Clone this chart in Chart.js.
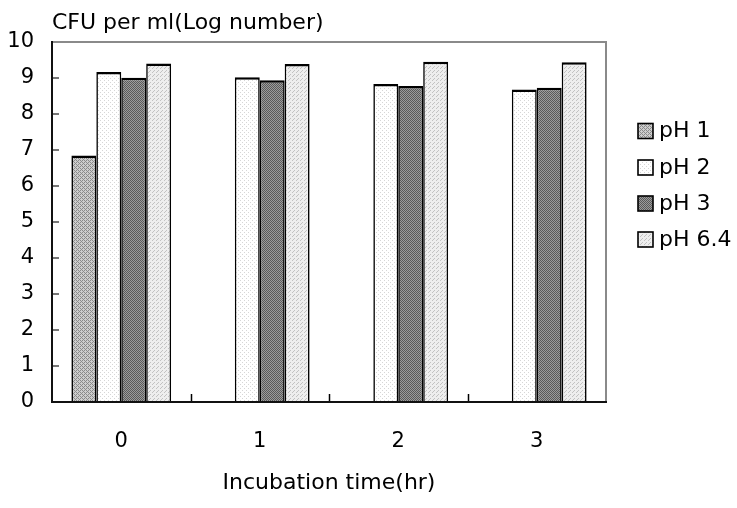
<!DOCTYPE html>
<html>
<head>
<meta charset="utf-8">
<script src="https://cdn.jsdelivr.net/npm/chart.js@4"></script>
<style>
  html, body { margin: 0; padding: 0; background: #fff; }
  #wrap { width: 737px; height: 508px; }
</style>
</head>
<body>
<div id="wrap"><canvas id="phChart" width="737" height="508"></canvas></div>
<script>
// survival counts (log CFU/ml) per incubation hour
const hours = ['0', '1', '2', '3'];
const seriesNames = ['pH 1', 'pH 2', 'pH 3', 'pH 6.4'];
const ph1 = [6.85, null, null, null];
const ph2 = [9.17, 9.02, 8.83, 8.68];
const ph3 = [9.01, 8.94, 8.78, 8.73];
const ph64 = [9.40, 9.39, 9.45, 9.44];
const yTicks = [0, 1, 2, 3, 4, 5, 6, 7, 8, 9, 10];

const FONT = '"DejaVu Sans", sans-serif';

// tiny bitmap fills that mimic the old print-style shading
function makePattern(bg, fg, dots) {
    const c = document.createElement('canvas');
    c.width = 4; c.height = 4;
    const g = c.getContext('2d');
    g.fillStyle = bg;
    g.fillRect(0, 0, 4, 4);
    g.fillStyle = fg;
    dots.forEach(([x, y]) => g.fillRect(x, y, 1, 1));
    return g.createPattern(c, 'repeat');
}

const fills = [
    makePattern('#cdcdcd', '#8a8a8a', [[0, 0], [1, 1], [2, 2], [3, 3], [2, 0], [0, 2]]),
    makePattern('#ffffff', '#d6d6d6', [[0, 0], [2, 2]]),
    makePattern('#9c9c9c', '#5a5a5a', [[0, 0], [2, 0], [1, 1], [3, 1], [0, 2], [2, 2], [1, 3], [3, 3]]),
    makePattern('#eeeeee', '#c2c2c2', [[0, 0], [2, 2], [1, 3]])
];

const values = [ph1, ph2, ph3, ph64];

const frameAndTicks = {
    id: 'frameAndTicks',
    afterDatasetsDraw(chart) {
        const { ctx, chartArea: a, scales } = chart;
        ctx.save();
        // inner tick marks on the value axis
        ctx.strokeStyle = '#777';
        ctx.lineWidth = 2;
        yTicks.forEach(v => {
            const y = Math.round(scales.y.getPixelForValue(v));
            ctx.beginPath();
            ctx.moveTo(a.left, y);
            ctx.lineTo(a.left + 7, y);
            ctx.stroke();
        });
        // inner tick marks between hour groups
        ctx.strokeStyle = '#000';
        ctx.lineWidth = 1.5;
        const step = scales.x.getPixelForValue(1) - scales.x.getPixelForValue(0);
        for (let i = 1; i < hours.length; i++) {
            const x = Math.round(scales.x.getPixelForValue(i) - step / 2) + 0.5;
            ctx.beginPath();
            ctx.moveTo(x, a.bottom);
            ctx.lineTo(x, a.bottom - 8);
            ctx.stroke();
        }
        // plot frame: grey top/right, black axes
        ctx.lineWidth = 2;
        ctx.strokeStyle = '#8a8a8a';
        ctx.beginPath();
        ctx.moveTo(a.left, a.top);
        ctx.lineTo(a.right, a.top);
        ctx.lineTo(a.right, a.bottom);
        ctx.stroke();
        ctx.strokeStyle = '#111';
        ctx.beginPath();
        ctx.moveTo(a.left, a.top - 1);
        ctx.lineTo(a.left, a.bottom);
        ctx.lineTo(a.right + 1, a.bottom);
        ctx.stroke();

        // value axis caption, written across the top
        ctx.fillStyle = '#000';
        ctx.font = '22px ' + FONT;
        ctx.textAlign = 'left';
        ctx.textBaseline = 'alphabetic';
        ctx.fillText('CFU per ml(Log number)', a.left, 29);

        // legend beside the plot
        ctx.textBaseline = 'middle';
        const lx = a.right + 32;
        const rowY = [130.5, 167, 203, 239];
        chart.data.datasets.forEach((ds, i) => {
            const cy = rowY[i];
            ctx.fillStyle = ds.backgroundColor;
            ctx.fillRect(lx, cy - 7, 15, 15);
            ctx.lineWidth = 1.6;
            ctx.strokeStyle = '#000';
            ctx.strokeRect(lx, cy - 7, 15, 15);
            ctx.fillStyle = '#000';
            ctx.fillText(ds.label, lx + 21, cy + 1);
        });
        ctx.restore();
    }
};

const datasets = seriesNames.map((name, i) => ({
    label: name,
    data: values[i],
    backgroundColor: fills[i],
    borderColor: '#000',
    borderWidth: { top: 2.5, left: 1.6, right: 1.6, bottom: 0 },
    borderSkipped: 'bottom',
    categoryPercentage: 0.72,
    barPercentage: 1
}));

new Chart(document.getElementById('phChart'), {
    type: 'bar',
    data: { labels: hours, datasets },
    options: {
        responsive: false,
        animation: false,
        layout: { padding: { top: 42, right: 131, left: 0, bottom: 0 } },
        plugins: {
            legend: { display: false },
            tooltip: { enabled: false }
        },
        scales: {
            x: {
                grid: { display: false, drawTicks: false },
                border: { display: false },
                ticks: { color: '#000', padding: 27, font: { family: FONT, size: 21 } },
                title: {
                    display: true,
                    text: 'Incubation time(hr)',
                    color: '#000',
                    font: { family: FONT, size: 22 },
                    padding: { top: 0, bottom: 12 }
                },
                afterFit(scale) { scale.height = 106; }
            },
            y: {
                min: 0,
                max: 10,
                grid: { display: false, drawTicks: false },
                border: { display: false },
                ticks: {
                    stepSize: 1,
                    color: '#000',
                    padding: 18,
                    font: { family: FONT, size: 21 }
                },
                afterFit(scale) { scale.width = 52; }
            }
        }
    },
    plugins: [frameAndTicks]
});
</script>
</body>
</html>
